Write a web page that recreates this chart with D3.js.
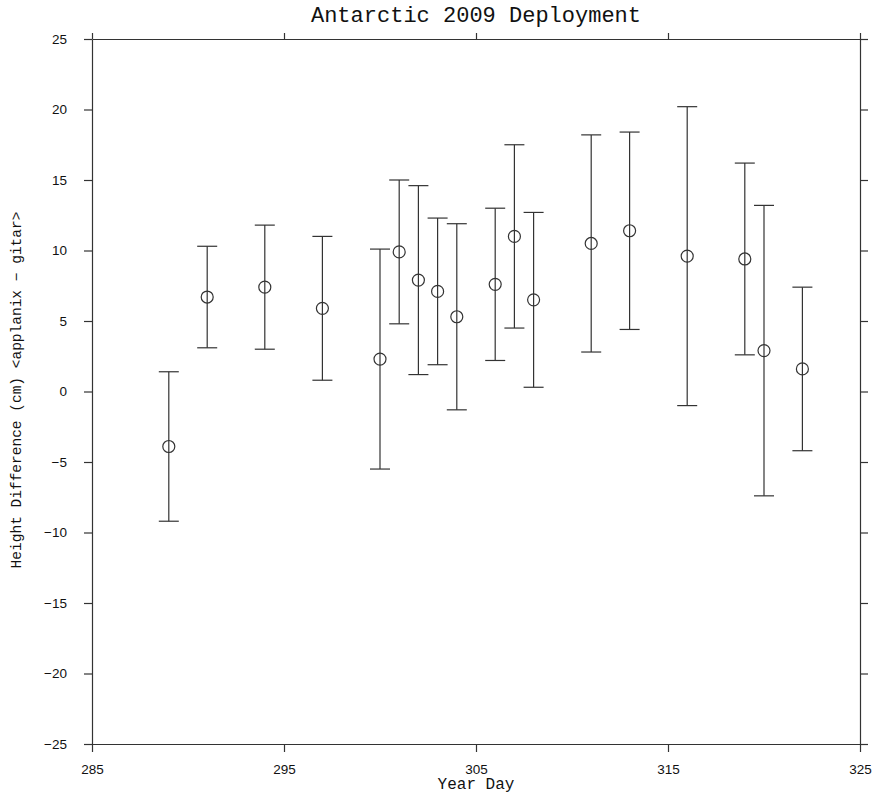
<!DOCTYPE html>
<html><head><meta charset="utf-8">
<script src="https://cdn.jsdelivr.net/npm/d3@7"></script>
<style>body{margin:0;background:#fff}svg{display:block}</style>
</head><body>
<svg id="c" width="872" height="795"></svg>
<script>
const yearDay = [289, 291, 294, 297, 300, 301, 302, 303, 304, 306, 307, 308, 311, 313, 316, 319, 320, 322];
const meanDiff = [-3.9, 6.7, 7.4, 5.9, 2.3, 9.9, 7.9, 7.1, 5.3, 7.6, 11.0, 6.5, 10.5, 11.4, 9.6, 9.4, 2.9, 1.6];
const upperVal = [1.4, 10.3, 11.8, 11.0, 10.1, 15.0, 14.6, 12.3, 11.9, 13.0, 17.5, 12.7, 18.2, 18.4, 20.2, 16.2, 13.2, 7.4];
const lowerVal = [-9.2, 3.1, 3.0, 0.8, -5.5, 4.8, 1.2, 1.9, -1.3, 2.2, 4.5, 0.3, 2.8, 4.4, -1.0, 2.6, -7.4, -4.2];
const xTicks = [285, 295, 305, 315, 325];
const yTicks = [-25, -20, -15, -10, -5, 0, 5, 10, 15, 20, 25];
const titleText = "Antarctic 2009 Deployment";
const xLabel = "Year Day";
const yLabel = "Height Difference (cm) <applanix \u2212 gitar>";

const L = 92, R = 860, T = 39, B = 744;
const svg = d3.select("#c");
const x = d3.scaleLinear().domain([285, 325]).range([L, R]);
const y = d3.scaleLinear().domain([-25, 25]).range([B, T]);
const ink = "#333";

function styleAxis(g, fontDy) {
  g.select(".domain").attr("stroke", ink).attr("stroke-width", 1.2);
  g.selectAll(".tick line").attr("stroke", ink).attr("stroke-width", 1.2);
  g.selectAll(".tick text").attr("fill", "#111")
    .style("font-family", "'Liberation Sans', Arial, sans-serif").style("font-size", "13.5px");
}

const gB = svg.append("g").attr("transform", `translate(0,${B})`)
  .call(d3.axisBottom(x).tickValues(xTicks).tickSize(8).tickPadding(12).tickSizeOuter(0).tickFormat(d3.format("d")));
styleAxis(gB);
const gT = svg.append("g").attr("transform", `translate(0,${T})`)
  .call(d3.axisTop(x).tickValues(xTicks).tickSize(6).tickSizeOuter(0).tickFormat(""));
styleAxis(gT);
const gL = svg.append("g").attr("transform", `translate(${L},0)`)
  .call(d3.axisLeft(y).tickValues(yTicks).tickSize(8).tickPadding(17).tickSizeOuter(0).tickFormat(d => d < 0 ? "\u2212" + Math.abs(d) : d));
styleAxis(gL);
const gR = svg.append("g").attr("transform", `translate(${R},0)`)
  .call(d3.axisRight(y).tickValues(yTicks).tickSize(8).tickSizeOuter(0).tickFormat(""));
styleAxis(gR);

const data = yearDay.map((d, i) => ({d, m: meanDiff[i], hi: upperVal[i], lo: lowerVal[i]}));
const g = svg.append("g").attr("stroke", ink).attr("stroke-width", 1.2).attr("fill", "none");
const eb = g.selectAll("g.eb").data(data).join("g").attr("class", "eb");
eb.append("line").attr("x1", p => x(p.d)).attr("x2", p => x(p.d)).attr("y1", p => y(p.hi)).attr("y2", p => y(p.lo));
eb.append("line").attr("x1", p => x(p.d) - 10).attr("x2", p => x(p.d) + 10).attr("y1", p => y(p.hi)).attr("y2", p => y(p.hi));
eb.append("line").attr("x1", p => x(p.d) - 10).attr("x2", p => x(p.d) + 10).attr("y1", p => y(p.lo)).attr("y2", p => y(p.lo));
eb.append("circle").attr("cx", p => x(p.d)).attr("cy", p => y(p.m)).attr("r", 6).attr("fill", "none");

svg.append("text").attr("x", (L + R) / 2).attr("y", 22).attr("text-anchor", "middle")
  .style("font-family", "'Liberation Mono', 'Courier New', monospace").style("font-size", "22px").attr("fill", "#111")
  .text(titleText);
svg.append("text").attr("x", (L + R) / 2).attr("y", 789).attr("text-anchor", "middle")
  .style("font-family", "'Liberation Mono', 'Courier New', monospace").style("font-size", "16px").attr("fill", "#111")
  .text(xLabel);
svg.append("text").attr("transform", "translate(21,390) rotate(-90)").attr("text-anchor", "middle")
  .style("font-family", "'Liberation Mono', 'Courier New', monospace").style("font-size", "14.5px").attr("fill", "#111")
  .text(yLabel);
</script>
</body></html>
